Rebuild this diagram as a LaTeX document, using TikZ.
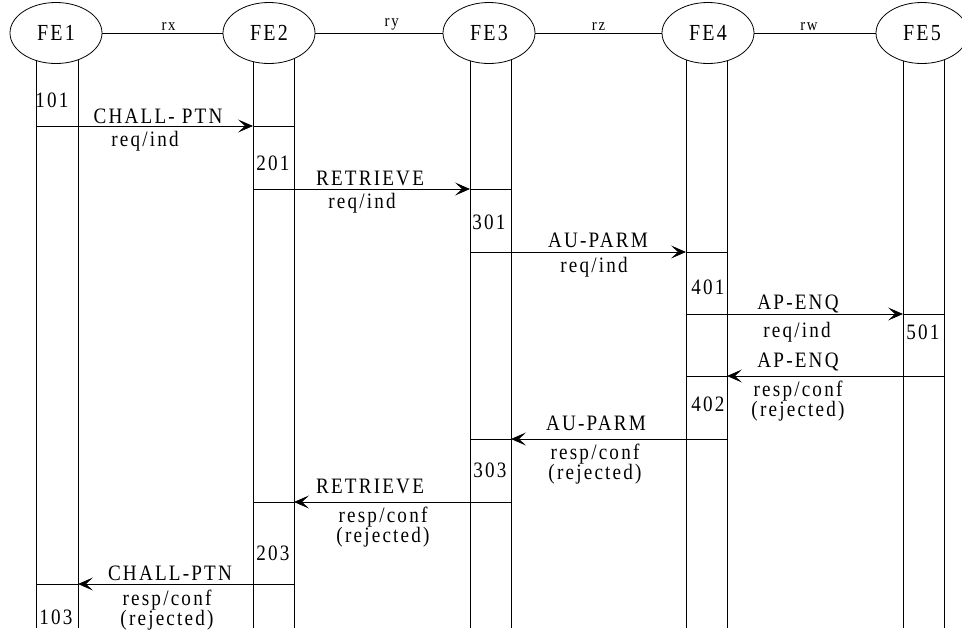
\documentclass[tikz,border=0pt]{standalone}
\usepackage{fontspec}
\setmainfont{Liberation Serif}[LetterSpace=10]
\newfontfamily\tallfont{Liberation Serif}[LetterSpace=10,FakeStretch=0.87]
\usepackage{tikz}
\usetikzlibrary{arrows.meta,shapes.geometric}

\begin{document}
\begin{tikzpicture}[x=1pt,y=-1pt,line width=0.8pt,
  fe/.style={draw,ellipse,fill=white,minimum width=92pt,minimum height=61pt,inner sep=0pt,font=\tallfont\fontsize{23}{25}\selectfont},
  lbl/.style={font=\tallfont\fontsize{22}{20}\selectfont,inner sep=0pt,align=center},
  link/.style={font=\tallfont\fontsize{17}{18}\selectfont,above,inner sep=2pt},
  msg/.style={-{Stealth[length=15pt,width=13pt,inset=7pt]}}]

\useasboundingbox (0,0) rectangle (962,630);

% Lifelines and entities
\foreach \n/\ex/\l/\r in {1/56/36/78, 2/269/253/294, 3/489/470/511, 4/708/686/727, 5/922/903/944}{
  \coordinate (l\n) at (\l,0);
  \coordinate (r\n) at (\r,0);
  \draw (\l,33) -- (\l,628);
  \draw (\r,33) -- (\r,628);
  \node[fe] (fe\n) at (\ex,33) {FE\n};
}

% Links between entities
\draw (fe1) -- node[link,pos=0.55]{rx} (fe2);
\draw (fe2) -- node[link,pos=0.6]{ry} (fe3);
\draw (fe3) -- node[link]{rz} (fe4);
\draw (fe4) -- node[link,pos=0.45]{rw} (fe5);

% Message levels
\coordinate (m1) at (0,126);
\coordinate (m2) at (0,189);
\coordinate (m3) at (0,252);
\coordinate (m4) at (0,314);
\coordinate (m5) at (0,376);
\coordinate (m6) at (0,439);
\coordinate (m7) at (0,502);
\coordinate (m8) at (0,584);

% Requests
\draw[msg] (l1|-m1) -- (l2|-m1);
\draw (l2|-m1) -- (r2|-m1);
\draw[msg] (l2|-m2) -- (l3|-m2);
\draw (l3|-m2) -- (r3|-m2);
\draw[msg] (l3|-m3) -- (l4|-m3);
\draw (l4|-m3) -- (r4|-m3);
\draw[msg] (l4|-m4) -- (l5|-m4);
\draw (l5|-m4) -- (r5|-m4);

% Responses
\draw[msg] (r5|-m5) -- (r4|-m5);
\draw (r4|-m5) -- (l4|-m5);
\draw[msg] (r4|-m6) -- (r3|-m6);
\draw (r3|-m6) -- (l3|-m6);
\draw[msg] (r3|-m7) -- (r2|-m7);
\draw (r2|-m7) -- (l2|-m7);
\draw[msg] (r2|-m8) -- (r1|-m8);
\draw (r1|-m8) -- (l1|-m8);

% Message labels
\node[lbl] (t1) at (158,116) {CHALL- PTN};
\node[lbl] (p1) at (145,141) {req/ind};
\node[lbl] (t2) at (370,178) {RETRIEVE};
\node[lbl] (p2) at (362,203) {req/ind};
\node[lbl] (t3) at (598,240) {AU-PARM};
\node[lbl] (p3) at (594,267) {req/ind};
\node[lbl] (t4) at (798,304) {AP-ENQ};
\node[lbl] (p4) at (797,332) {req/ind};
\node[lbl] (t5) at (798,362) {AP-ENQ};
\node[lbl] (p5) at (798,401) {resp/conf\\(rejected)};
\node[lbl] (t6) at (596,423) {AU-PARM};
\node[lbl] (p6) at (595,464) {resp/conf\\(rejected)};
\node[lbl] (t7) at (370,486) {RETRIEVE};
\node[lbl] (p7) at (383,527) {resp/conf\\(rejected)};
\node[lbl] (t8) at (170,573) {CHALL-PTN};
\node[lbl] (p8) at (167,610) {resp/conf\\(rejected)};

% State numbers
\node[lbl] (s101) at (52,100) {101};
\node[lbl] (s201) at (273,163) {201};
\node[lbl] (s301) at (489,222) {301};
\node[lbl] (s401) at (708,287) {401};
\node[lbl] (s501) at (923,332) {501};
\node[lbl] (s402) at (708,404) {402};
\node[lbl] (s303) at (490,470) {303};
\node[lbl] (s203) at (273,553) {203};
\node[lbl] (s103) at (56,617) {103};

\end{tikzpicture}
\end{document}
